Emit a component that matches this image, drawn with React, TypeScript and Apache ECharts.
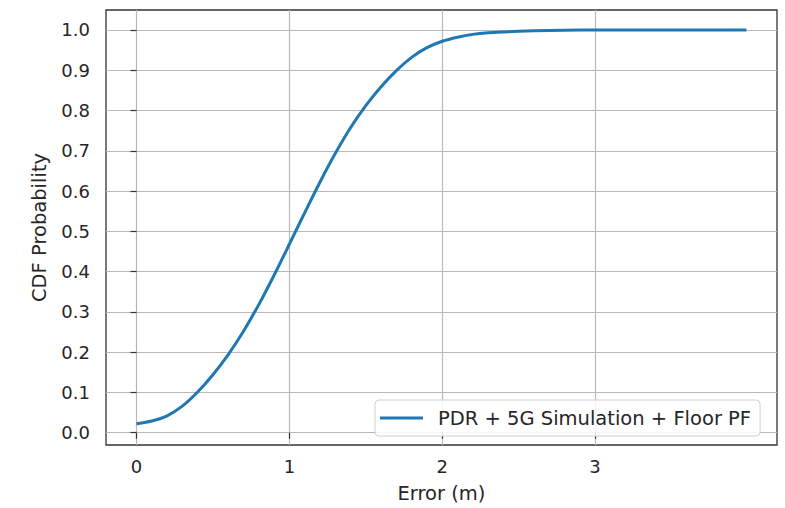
import React, { useEffect, useRef } from "react";
import * as echarts from "echarts";

const errorX = [0, 0.1, 0.2, 0.3, 0.4, 0.5, 0.6, 0.7, 0.8, 0.9, 1.0, 1.1, 1.2, 1.3, 1.4, 1.5, 1.6, 1.7, 1.8, 1.9, 2.0, 2.1, 2.2, 2.3, 2.4, 2.6, 2.8, 3.0, 3.5, 3.99];
const cdfY = [0.022, 0.029, 0.042, 0.066, 0.101, 0.144, 0.194, 0.252, 0.318, 0.391, 0.468, 0.546, 0.622, 0.693, 0.757, 0.812, 0.859, 0.899, 0.932, 0.956, 0.972, 0.982, 0.989, 0.993, 0.995, 0.998, 0.9995, 1.0, 1.0, 1.0];
const xTicks = [0, 1, 2, 3];
const yTicks = [0, 0.1, 0.2, 0.3, 0.4, 0.5, 0.6, 0.7, 0.8, 0.9, 1.0];
const seriesName = "PDR + 5G Simulation + Floor PF";

export default function App() {
  const ref = useRef<HTMLDivElement>(null);
  useEffect(() => {
    document.body.style.margin = "0";
    const chart = echarts.init(ref.current!, null, { renderer: "svg" });
    const font = "DejaVu Sans";
    const textColor = "#262626";
    chart.setOption({
      animation: false,
      backgroundColor: "#ffffff",
      textStyle: { fontFamily: font },
      grid: {
        left: 106, right: 8, top: 10, bottom: 61,
        show: true, borderColor: "#333333", borderWidth: 1.3, backgroundColor: "transparent",
      },
      xAxis: {
        type: "value",
        min: -0.1995, max: 4.19,
        name: "Error (m)", nameLocation: "middle", nameGap: 38,
        nameTextStyle: { fontSize: 19.5, color: textColor, fontFamily: font },
        axisLine: { show: false },
        axisTick: { show: true, inside: false, length: 6, customValues: xTicks, lineStyle: { color: "#333333", width: 1.2 } },
        axisLabel: { customValues: xTicks, fontSize: 18, color: textColor, margin: 12, fontFamily: font },
        splitLine: { show: true, lineStyle: { color: "#b8b8b8", width: 1.2 } },
      },
      yAxis: {
        type: "value",
        min: -0.0305, max: 1.0495,
        name: "CDF Probability", nameLocation: "middle", nameGap: 57, nameRotate: 90,
        nameTextStyle: { fontSize: 19.5, color: textColor, fontFamily: font },
        axisLine: { show: false },
        axisTick: { show: true, inside: false, length: 6, customValues: yTicks, lineStyle: { color: "#333333", width: 1.2 } },
        axisLabel: {
          customValues: yTicks, fontSize: 18, color: textColor, margin: 16, fontFamily: font,
          formatter: (v: number) => v.toFixed(1),
        },
        splitLine: { show: true, lineStyle: { color: "#b8b8b8", width: 1.2 } },
      },
      legend: {
        left: 375, top: 400,
        padding: [8, 9, 8, 5],
        backgroundColor: "rgba(255,255,255,0.85)",
        borderColor: "#d0d0d0", borderWidth: 1, borderRadius: 4,
        itemWidth: 43, itemHeight: 3,
        textStyle: { fontSize: 19.5, color: textColor, fontFamily: font, padding: [0, 0, 0, 10] },
        data: [{ name: seriesName, icon: "rect" }],
      },
      series: [
        {
          type: "line",
          name: seriesName,
          data: errorX.map((x, i) => [x, cdfY[i]]),
          smooth: 0.3,
          showSymbol: false,
          symbol: "none",
          lineStyle: { color: "#1f77b4", width: 3 },
          itemStyle: { color: "#1f77b4" },
        },
      ],
    });
    return () => chart.dispose();
  }, []);
  return <div ref={ref} style={{ width: 785, height: 508 }} />;
}
